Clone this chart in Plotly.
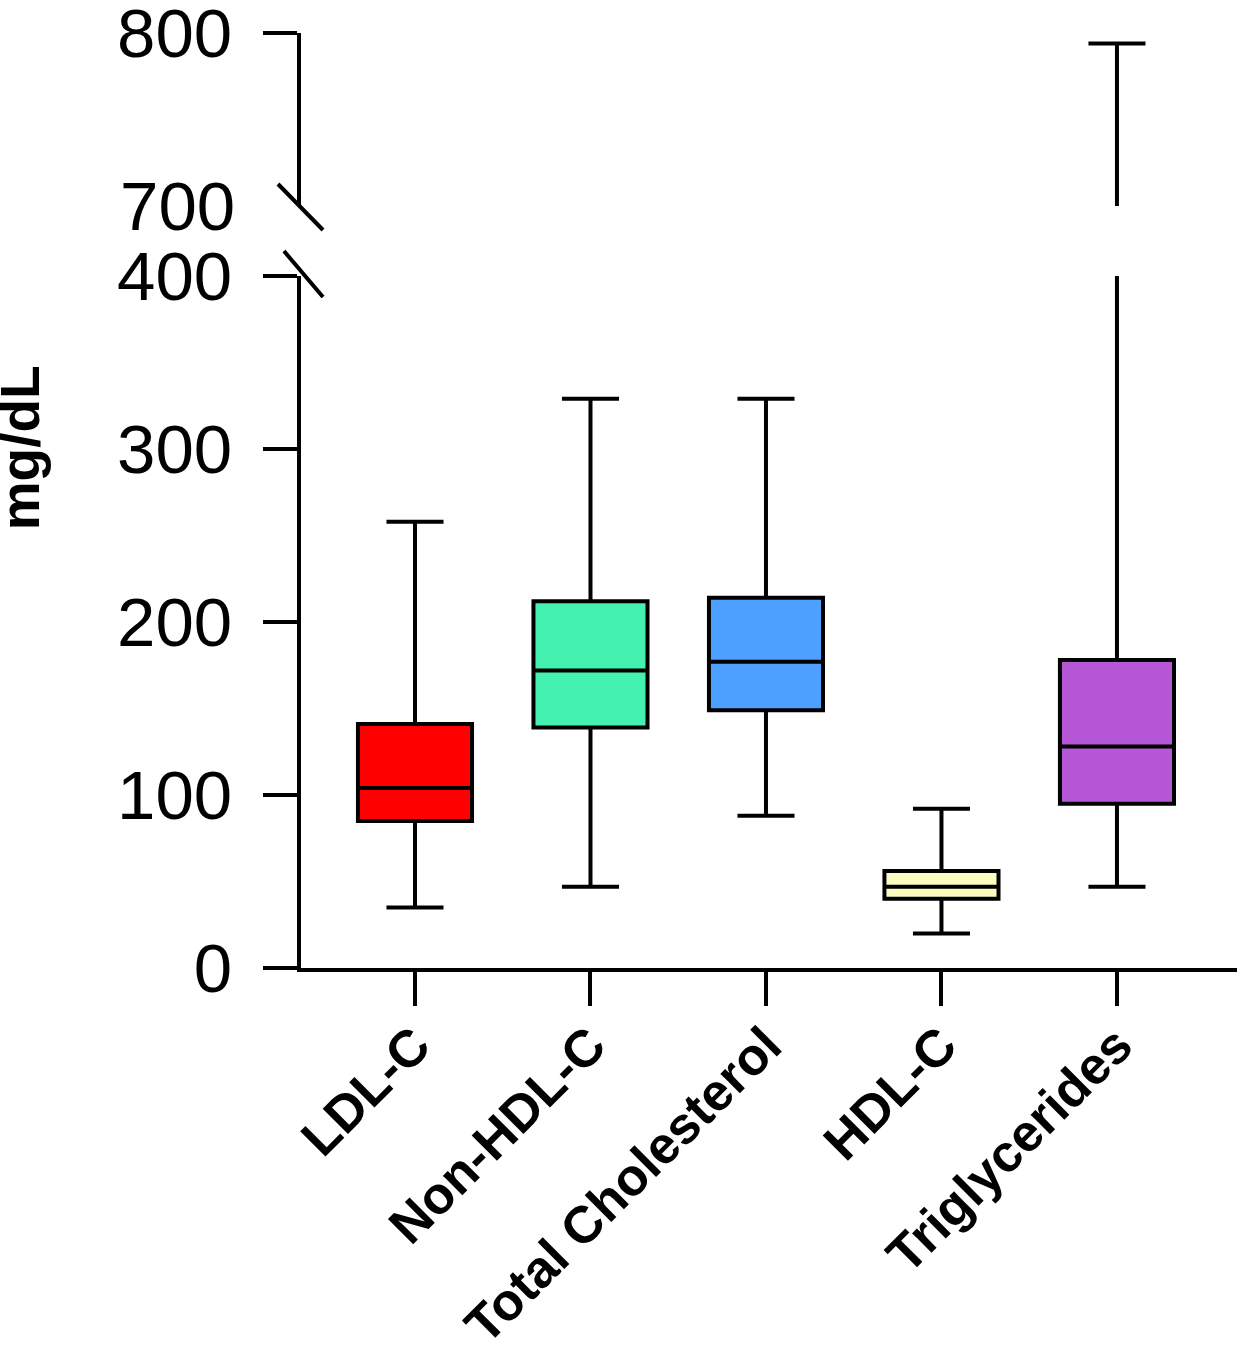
import plotly.graph_objects as go

categories = ["LDL-C", "Non-HDL-C", "Total Cholesterol", "HDL-C", "Triglycerides"]
lower_fence = [35, 47, 88, 20, 47]
q1_vals = [85, 139, 149, 40, 95]
medians = [104, 172, 177, 47, 128]
q3_vals = [141, 212, 214, 56, 178]
upper_fence = [258, 329, 329, 92, 794]
fill_colors = ["#FF0000", "#45F1B1", "#4DA0FF", "#FAFCC0", "#B557D7"]

lower_ticks = [0, 100, 200, 300, 400]
upper_ticks = [800]
upper_label_only = [700]

FONT = "Liberation Sans, Arial, sans-serif"
LW = 4

fig = go.Figure()

for i, cat in enumerate(categories):
    common = dict(
        x=[cat], q1=[q1_vals[i]], median=[medians[i]], q3=[q3_vals[i]],
        lowerfence=[lower_fence[i]], upperfence=[upper_fence[i]],
        fillcolor=fill_colors[i], line=dict(color="black", width=LW),
        width=0.65, whiskerwidth=0.5, boxpoints=False, showlegend=False,
        hoverinfo="skip",
    )
    fig.add_trace(go.Box(**common, xaxis="x", yaxis="y"))
    if upper_fence[i] > 700:
        fig.add_trace(go.Box(**common, xaxis="x", yaxis="y2"))

# invisible trace so the label-only axis is drawn
fig.add_trace(go.Scatter(x=[categories[0]], y=[750], xaxis="x", yaxis="y3",
                         mode="markers", marker=dict(opacity=0),
                         showlegend=False, hoverinfo="skip"))

axis_common = dict(
    showline=True, linecolor="black", linewidth=LW, ticks="outside",
    ticklen=34, tickwidth=LW, tickcolor="black", showgrid=False, zeroline=False,
    tickfont=dict(family=FONT, size=69, color="black"), ticklabelstandoff=17,
    automargin=False, ticklabeloverflow="allow",
)

fig.update_layout(
    width=1242, height=1350,
    margin=dict(l=301, r=5, t=33, b=382),
    plot_bgcolor="white", paper_bgcolor="white",
    xaxis=dict(
        range=[-0.6496, 4.684], showline=True, linecolor="black", linewidth=LW,
        ticks="outside", ticklen=34, tickwidth=LW, tickcolor="black",
        showgrid=False, zeroline=False, tickangle=-45, anchor="y",
        tickfont=dict(family=FONT, size=52, color="black", weight="bold"),
        ticklabelstandoff=-12, automargin=False, ticklabeloverflow="allow",
    ),
    yaxis=dict(domain=[0, 0.7401], range=[0, 400], tickvals=lower_ticks,
               anchor="x", **axis_common),
    yaxis2=dict(domain=[0.8150, 1], range=[700, 800], tickvals=upper_ticks,
                anchor="x", **axis_common),
    yaxis3=dict(domain=[0.8150, 1], range=[700, 800], tickvals=upper_label_only,
                anchor="x", overlaying="y2", showline=False, ticks="outside",
                ticklen=34, tickwidth=LW, tickcolor="rgba(0,0,0,0)", showgrid=False,
                zeroline=False, ticklabelstandoff=17, automargin=False,
                ticklabeloverflow="allow",
                tickfont=dict(family=FONT, size=69, color="black")),
    boxmode="overlay",
)

# axis break marks
fig.add_shape(type="line", xref="paper", yref="paper",
              x0=-0.0246, y0=0.8385, x1=0.0235, y1=0.7893,
              line=dict(color="black", width=LW))
fig.add_shape(type="line", xref="paper", yref="paper",
              x0=-0.0182, y0=0.7668, x1=0.0235, y1=0.7176,
              line=dict(color="black", width=LW))

fig.add_annotation(text="<b>mg/dL</b>", xref="paper", yref="paper",
                   x=-0.300, y=0.556, textangle=-90, showarrow=False,
                   xanchor="center", yanchor="middle",
                   font=dict(family=FONT, size=55, color="black"))

fig.write_html("out.html", config={"displayModeBar": False},
               post_script="document.body.style.margin='0px';")
